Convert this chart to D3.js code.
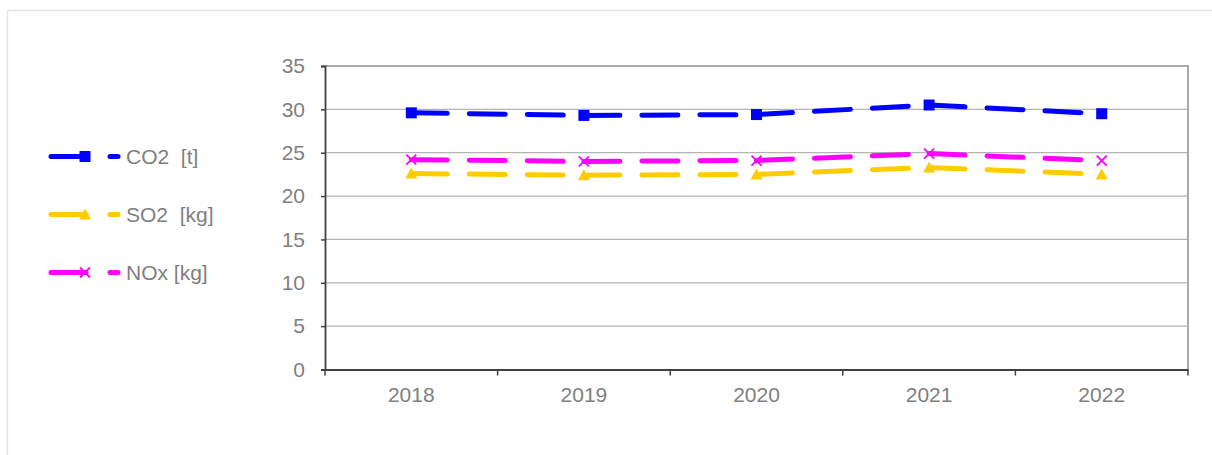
<!DOCTYPE html>
<html>
<head>
<meta charset="utf-8">
<script src="https://cdn.jsdelivr.net/npm/d3@7"></script>
<style>
  html, body { margin: 0; padding: 0; background: #fff; }
  svg { display: block; }
  text { font-family: "Liberation Sans", Arial, sans-serif; }
</style>
</head>
<body>
<svg id="chart" width="1212" height="455"></svg>
<script>
const categories = ["2018", "2019", "2020", "2021", "2022"];
const co2Values = [29.6, 29.3, 29.4, 30.5, 29.5];
const so2Values = [22.6, 22.4, 22.5, 23.3, 22.5];
const noxValues = [24.2, 24.0, 24.1, 24.9, 24.1];
const seriesNames = ["CO2  [t]", "SO2  [kg]", "NOx [kg]"];
const yTicks = [0, 5, 10, 15, 20, 25, 30, 35];

(function () {
const series = [
  { name: seriesNames[0], values: co2Values, color: "#0000FF", marker: "square" },
  { name: seriesNames[1], values: so2Values, color: "#FFCC00", marker: "triangle" },
  { name: seriesNames[2], values: noxValues, color: "#FF00FF", marker: "cross" }
];

const svg = d3.select("#chart");
const textColor = "#7f7f7f";
const fontSize = "21px";

// outer frame
svg.append("path")
  .attr("d", "M7.5,460 L7.5,10.5 L1220,10.5")
  .attr("fill", "none").attr("stroke", "#e3e3e3").attr("stroke-width", 1.5);

const pLeft = 325, pRight = 1188, pTop = 66, pBottom = 369.5;
const x = d3.scaleBand().domain(categories).range([pLeft, pRight]).padding(0);
const y = d3.scaleLinear().domain([0, 35]).range([pBottom, pTop]);

// gridlines
svg.append("g").selectAll("line").data(yTicks.filter(t => t > 0)).join("line")
  .attr("x1", pLeft).attr("x2", pRight)
  .attr("y1", d => y(d)).attr("y2", d => y(d))
  .attr("stroke", d => d === 35 ? "#aaaaaa" : "#b4b4b4")
  .attr("stroke-width", d => d === 35 ? 2 : 1.2);

// right border of plot
svg.append("line").attr("x1", pRight).attr("x2", pRight).attr("y1", pTop - 1).attr("y2", pBottom)
  .attr("stroke", "#aaaaaa").attr("stroke-width", 2);

// y axis
const yAxis = d3.axisLeft(y).tickValues(yTicks).tickSize(4).tickPadding(16);
const gy = svg.append("g").attr("transform", `translate(${pLeft},0)`).call(yAxis);
gy.select(".domain").attr("stroke", "#404040").attr("stroke-width", 1.8);
gy.selectAll(".tick line").attr("stroke", "#404040").attr("stroke-width", 1.5);
gy.selectAll("text").attr("fill", textColor).style("font-size", fontSize)
  .style("font-family", "'Liberation Sans', Arial, sans-serif");

// x axis
const xAxis = d3.axisBottom(x).tickSize(0).tickPadding(17.5);
const gx = svg.append("g").attr("transform", `translate(0,${pBottom})`).call(xAxis);
gx.select(".domain").attr("stroke", "#404040").attr("stroke-width", 1.8);
gx.selectAll("text").attr("fill", textColor).style("font-size", fontSize)
  .style("font-family", "'Liberation Sans', Arial, sans-serif");
// x tick marks at band boundaries
const boundaries = categories.map(c => x(c)).concat([pRight]);
svg.append("g").selectAll("line").data(boundaries).join("line")
  .attr("x1", d => d).attr("x2", d => d)
  .attr("y1", pBottom).attr("y2", pBottom + 6)
  .attr("stroke", "#404040").attr("stroke-width", 1.5);

const cx = c => x(c) + x.bandwidth() / 2;

function drawMarker(g, type, px, py, color) {
  if (type === "square") {
    g.append("rect").attr("x", px - 5.5).attr("y", py - 5.5).attr("width", 11).attr("height", 11)
      .attr("fill", color);
  } else if (type === "triangle") {
    g.append("path").attr("d", `M${px},${py - 6} L${px + 6},${py + 5} L${px - 6},${py + 5} Z`)
      .attr("fill", color);
  } else {
    g.append("path").attr("d", `M${px - 5},${py - 5} L${px + 5},${py + 5} M${px - 5},${py + 5} L${px + 5},${py - 5}`)
      .attr("stroke", color).attr("stroke-width", 1.8).attr("fill", "none");
  }
}

// series: each segment separately so the dash pattern restarts at each point
series.forEach(s => {
  const g = svg.append("g");
  for (let i = 0; i < categories.length - 1; i++) {
    g.append("line")
      .attr("x1", cx(categories[i])).attr("y1", y(s.values[i]))
      .attr("x2", cx(categories[i + 1])).attr("y2", y(s.values[i + 1]))
      .attr("stroke", s.color).attr("stroke-width", 5)
      .attr("stroke-linecap", "round")
      .attr("stroke-dasharray", "36,22");
  }
  categories.forEach((c, i) => drawMarker(g, s.marker, cx(c), y(s.values[i]), s.color));
});

// legend
const legendY = [156.5, 214.5, 272.5];
series.forEach((s, i) => {
  const g = svg.append("g");
  const ly = legendY[i];
  g.append("line").attr("x1", 51).attr("x2", 86).attr("y1", ly).attr("y2", ly)
    .attr("stroke", s.color).attr("stroke-width", 5).attr("stroke-linecap", "round");
  drawMarker(g, s.marker, 85, ly, s.color);
  g.append("line").attr("x1", 110).attr("x2", 118).attr("y1", ly).attr("y2", ly)
    .attr("stroke", s.color).attr("stroke-width", 5).attr("stroke-linecap", "round");
  g.append("text").attr("x", 126).attr("y", ly).attr("dy", "0.35em")
    .attr("fill", textColor).style("font-size", fontSize)
    .style("white-space", "pre").attr("xml:space", "preserve")
    .text(s.name);
});
})();
</script>
</body>
</html>
